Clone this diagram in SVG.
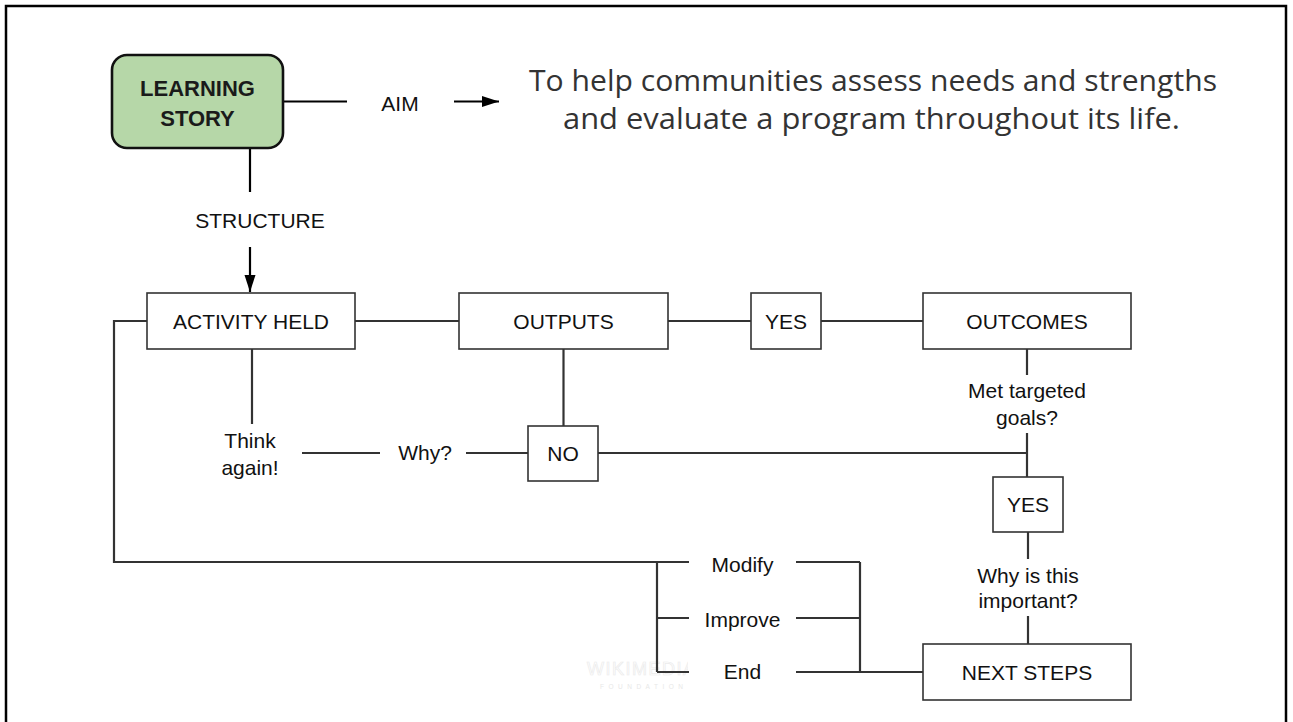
<svg xmlns="http://www.w3.org/2000/svg" width="1293" height="722" viewBox="0 0 1293 722">
<defs>
<marker id="arr" markerUnits="userSpaceOnUse" markerWidth="18" markerHeight="12" refX="17" refY="5.5" orient="auto">
<path d="M0,0 L17,5.5 L0,11 z" fill="#000"/>
</marker>
<clipPath id="wmclip"><rect x="560" y="650" width="128" height="50"/></clipPath>
</defs>
<style>
.box{fill:#fff;stroke:#333;stroke-width:1.6}
.lbl{font-family:"Liberation Sans",Arial,sans-serif;font-size:21px;fill:#111;text-anchor:middle}
.ln{fill:none;stroke:#333;stroke-width:2.2}
.ar{fill:none;stroke:#000;stroke-width:2.2}
</style>
<rect x="0" y="0" width="1293" height="722" fill="#fff"/>
<rect x="6" y="6" width="1280" height="740" fill="none" stroke="#000" stroke-width="2.5"/>

<g id="watermark" clip-path="url(#wmclip)">
<text x="587" y="675" font-family="Liberation Sans,Arial,sans-serif" font-size="18" fill="none" stroke="#ebebeb" stroke-width="0.7" letter-spacing="1.5">WIKIMEDIA</text>
<text x="600" y="689" font-family="Liberation Sans,Arial,sans-serif" font-size="6.5" fill="#e8e8e8" letter-spacing="4.5">FOUNDATION</text>
</g>

<g id="connectors">
<path class="ar" d="M283,101.5 H347"/>
<path class="ar" d="M454,101.5 H499" marker-end="url(#arr)"/>
<path class="ar" d="M250,148 V192"/>
<path class="ar" d="M250,247 V292" marker-end="url(#arr)"/>
<path class="ln" d="M355,321 H459"/>
<path class="ln" d="M668,321 H751"/>
<path class="ln" d="M821,321 H923"/>
<path class="ln" d="M147,321 H114 V562 H689"/>
<path class="ln" d="M252,349 V424"/>
<path class="ln" d="M302,453 H380"/>
<path class="ln" d="M466,453 H528"/>
<path class="ln" d="M563.5,349 V426"/>
<path class="ln" d="M598,453 H1027"/>
<path class="ln" d="M1027,349 V375"/>
<path class="ln" d="M1027,433 V477"/>
<path class="ln" d="M1028,532 V559"/>
<path class="ln" d="M1028,616 V644"/>
<path class="ln" d="M657,562 V672 M657,618 H689 M657,672 H689"/>
<path class="ln" d="M796,562 H860 M796,618 H860 M796,672 H860 M860,562 V672"/>
<path class="ln" d="M860,672 H923" stroke-width="3"/>
</g>

<g id="learning-story">
<rect x="112" y="55" width="171" height="93" rx="15" ry="15" fill="#b6d7a8" stroke="#111" stroke-width="2.6"/>
<text x="197.5" y="96" text-anchor="middle" font-family="Liberation Sans,Arial,sans-serif" font-weight="bold" font-size="22" fill="#1a1a1a">LEARNING</text>
<text x="197.5" y="126" text-anchor="middle" font-family="Liberation Sans,Arial,sans-serif" font-weight="bold" font-size="22" fill="#1a1a1a">STORY</text>
</g>

<g id="aim-label"><text class="lbl" x="400" y="111" font-size="23">AIM</text></g>

<g id="aim-text">
<text x="873" y="91" text-anchor="middle" font-family="'Open Sans','DejaVu Sans',sans-serif" font-size="29" fill="#333" textLength="688" lengthAdjust="spacingAndGlyphs">To help communities assess needs and strengths</text>
<text x="871.5" y="129" text-anchor="middle" font-family="'Open Sans','DejaVu Sans',sans-serif" font-size="29" fill="#333" textLength="617" lengthAdjust="spacingAndGlyphs">and evaluate a program throughout its life.</text>
</g>

<g id="structure-label"><text class="lbl" x="260" y="228">STRUCTURE</text></g>

<g id="activity-held">
<rect class="box" x="147" y="293" width="208" height="56"/>
<text class="lbl" x="251" y="328.5">ACTIVITY HELD</text>
</g>
<g id="outputs">
<rect class="box" x="459" y="293" width="209" height="56"/>
<text class="lbl" x="563.5" y="328.5">OUTPUTS</text>
</g>
<g id="yes1">
<rect class="box" x="751" y="293" width="70" height="56"/>
<text class="lbl" x="786" y="328.5">YES</text>
</g>
<g id="outcomes">
<rect class="box" x="923" y="293" width="208" height="56"/>
<text class="lbl" x="1027" y="328.5">OUTCOMES</text>
</g>

<g id="think-again">
<text class="lbl" x="250" y="448">Think</text>
<text class="lbl" x="250" y="475">again!</text>
</g>
<g id="why"><text class="lbl" x="425" y="460">Why?</text></g>
<g id="no">
<rect class="box" x="528" y="426" width="70" height="55"/>
<text class="lbl" x="563" y="461">NO</text>
</g>

<g id="met-goals">
<text class="lbl" x="1027" y="398">Met targeted</text>
<text class="lbl" x="1027" y="425">goals?</text>
</g>
<g id="yes2">
<rect class="box" x="993" y="477" width="70" height="55"/>
<text class="lbl" x="1028" y="512">YES</text>
</g>
<g id="why-important">
<text class="lbl" x="1028" y="583">Why is this</text>
<text class="lbl" x="1028" y="608">important?</text>
</g>
<g id="next-steps">
<rect class="box" x="923" y="644" width="208" height="56"/>
<text class="lbl" x="1027" y="679.5">NEXT STEPS</text>
</g>

<g id="modify"><text class="lbl" x="742.5" y="572">Modify</text></g>
<g id="improve"><text class="lbl" x="742.5" y="627">Improve</text></g>
<g id="end"><text class="lbl" x="742.5" y="679">End</text></g>
</svg>
